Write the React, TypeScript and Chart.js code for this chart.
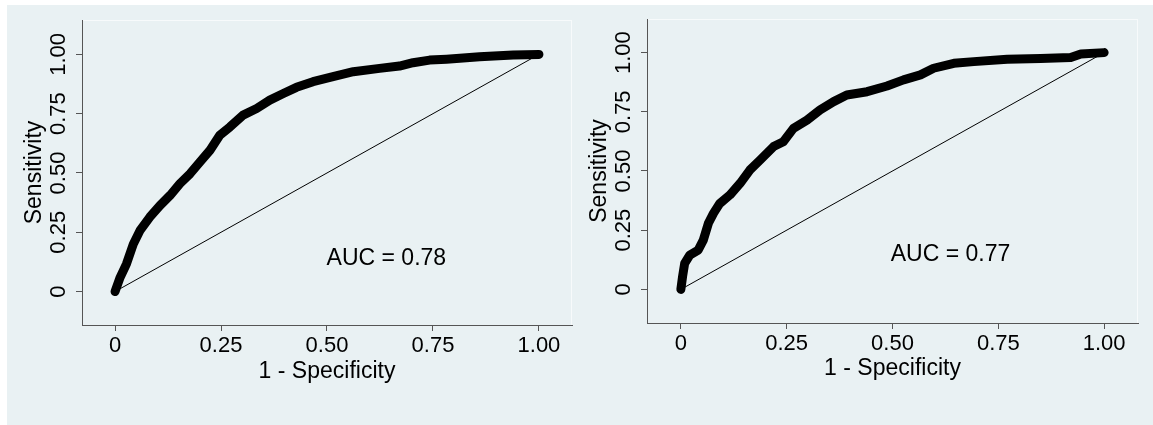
import React, { useEffect, useRef } from "react";
import { Chart, registerables } from "chart.js";

Chart.register(...registerables);

// ---- data ----
const fprLeft = [0, 0.012, 0.027, 0.043, 0.059, 0.082, 0.106, 0.13, 0.153, 0.177, 0.2, 0.224, 0.247, 0.271, 0.302, 0.334, 0.365, 0.397, 0.428, 0.467, 0.507, 0.562, 0.624, 0.671, 0.703, 0.742, 0.782, 0.86, 0.939, 1];
const tprLeft = [0, 0.06, 0.117, 0.2, 0.258, 0.314, 0.363, 0.406, 0.455, 0.497, 0.546, 0.596, 0.659, 0.694, 0.744, 0.772, 0.807, 0.835, 0.861, 0.885, 0.903, 0.927, 0.941, 0.951, 0.965, 0.976, 0.98, 0.99, 0.997, 1];

const fprRight = [0, 0.004, 0.009, 0.021, 0.041, 0.053, 0.065, 0.077, 0.092, 0.116, 0.14, 0.163, 0.187, 0.219, 0.242, 0.266, 0.298, 0.329, 0.361, 0.392, 0.44, 0.487, 0.526, 0.566, 0.597, 0.645, 0.692, 0.771, 0.85, 0.921, 0.945, 1];
const tprRight = [0, 0.054, 0.11, 0.145, 0.166, 0.208, 0.279, 0.321, 0.363, 0.399, 0.448, 0.504, 0.546, 0.603, 0.624, 0.68, 0.715, 0.758, 0.793, 0.821, 0.835, 0.859, 0.885, 0.906, 0.934, 0.955, 0.962, 0.972, 0.975, 0.979, 0.994, 1];

const diagX = [0, 1];
const diagY = [0, 1];

const tickValues = [0, 0.25, 0.5, 0.75, 1];
const tickLabels = ["0", "0.25", "0.50", "0.75", "1.00"];

const xTitle = "1 - Specificity";
const yTitle = "Sensitivity";
const aucLeft = "AUC = 0.78";
const aucRight = "AUC = 0.77";
const aucPosLeft = [0.64, 0.137];
const aucPosRight = [0.637, 0.145];

// ---- style ----
const BG = "rgb(233,241,243)";
const AXIS = "#555555";
const FONT = "'Liberation Sans', Arial, Helvetica, sans-serif";

type Geom = {
  w: number; h: number;
  yW: number; xH: number;
  padTop: number; padRight: number;
  yTitlePad: number; xTitlePad: number;
  xMin: number; xMax: number; yMin: number; yMax: number;
};

function makeConfig(fpr: number[], tpr: number[], auc: string, aucPos: number[], g: Geom): any {
  const outline = {
    id: "outline",
    beforeDraw(chart: any) {
      const { ctx, chartArea } = chart;
      ctx.save();
      ctx.strokeStyle = "rgb(247,250,251)";
      ctx.lineWidth = 1;
      ctx.strokeRect(chartArea.left + 0.5, chartArea.top + 0.5, chartArea.right - chartArea.left - 1, chartArea.bottom - chartArea.top);
      ctx.restore();
    },
  };
  const aucText = {
    id: "aucText",
    afterDatasetsDraw(chart: any) {
      const { ctx } = chart;
      const x = chart.scales.x.getPixelForValue(aucPos[0]);
      const y = chart.scales.y.getPixelForValue(aucPos[1]);
      ctx.save();
      ctx.fillStyle = "#000";
      ctx.font = `23px ${FONT}`;
      ctx.textAlign = "center";
      ctx.textBaseline = "middle";
      ctx.fillText(auc, x, y);
      ctx.restore();
    },
  };
  const setTicks = (scale: any) => {
    scale.ticks = tickValues.map((v) => ({ value: v }));
  };
  const fmt = (_v: any, i: number) => tickLabels[i];
  return {
    type: "line",
    data: {
      datasets: [
        {
          data: diagX.map((x, i) => ({ x, y: diagY[i] })),
          borderColor: "#000",
          borderWidth: 1,
          pointRadius: 0,
          fill: false,
          tension: 0,
        },
        {
          data: fpr.map((x, i) => ({ x, y: tpr[i] })),
          borderColor: "#000",
          borderWidth: 9,
          borderJoinStyle: "round",
          borderCapStyle: "round",
          pointRadius: 0,
          fill: false,
          tension: 0,
        },
      ],
    },
    options: {
      responsive: false,
      animation: false,
      devicePixelRatio: 1,
      layout: { padding: { left: 0, top: g.padTop, right: g.padRight, bottom: 0 } },
      plugins: { legend: { display: false }, tooltip: { enabled: false } },
      scales: {
        x: {
          type: "linear",
          min: g.xMin,
          max: g.xMax,
          afterBuildTicks: setTicks,
          afterFit: (s: any) => { s.height = g.xH; },
          grid: { drawOnChartArea: false, drawTicks: true, tickLength: 6, tickColor: AXIS, lineWidth: 1 },
          border: { display: true, color: AXIS, width: 1 },
          ticks: { callback: fmt, autoSkip: false, maxRotation: 0, minRotation: 0, padding: 2, color: "#000", font: { family: FONT, size: 22 } },
          title: { display: true, text: xTitle, color: "#000", font: { family: FONT, size: 23 }, padding: { top: 0, bottom: g.xTitlePad } },
        },
        y: {
          type: "linear",
          min: g.yMin,
          max: g.yMax,
          afterBuildTicks: setTicks,
          afterFit: (s: any) => { s.width = g.yW; },
          grid: { drawOnChartArea: false, drawTicks: true, tickLength: 6, tickColor: AXIS, lineWidth: 1 },
          border: { display: true, color: AXIS, width: 1 },
          ticks: { callback: fmt, autoSkip: false, minRotation: 90, maxRotation: 90, crossAlign: "center", padding: -4, color: "#000", font: { family: FONT, size: 22 } },
          title: { display: true, text: yTitle, color: "#000", font: { family: FONT, size: 23 }, padding: { top: g.yTitlePad, bottom: 0 } },
        },
      },
    },
    plugins: [outline, aucText],
  };
}

const leftGeom: Geom = {
  w: 566, h: 420, yW: 75, xH: 100, padTop: 15, padRight: 1,
  yTitlePad: 14, xTitlePad: 40,
  xMin: -0.078, xMax: 1.078, yMin: -0.141, yMax: 1.145,
};
const rightGeom: Geom = {
  w: 578, h: 420, yW: 72, xH: 102, padTop: 14, padRight: 15,
  yTitlePad: 11, xTitlePad: 43,
  xMin: -0.08, xMax: 1.08, yMin: -0.142, yMax: 1.142,
};

export default function App() {
  const leftRef = useRef<HTMLCanvasElement | null>(null);
  const rightRef = useRef<HTMLCanvasElement | null>(null);
  useEffect(() => {
    const c1 = new Chart(leftRef.current as HTMLCanvasElement, makeConfig(fprLeft, tprLeft, aucLeft, aucPosLeft, leftGeom));
    const c2 = new Chart(rightRef.current as HTMLCanvasElement, makeConfig(fprRight, tprRight, aucRight, aucPosRight, rightGeom));
    return () => { c1.destroy(); c2.destroy(); };
  }, []);
  return (
    <div style={{ position: "fixed", left: 0, top: 0, width: 1153, height: 425, background: "#fff", overflow: "hidden" }}>
      <div style={{ position: "absolute", left: 7, top: 5, width: 1146, height: 420, background: BG }} />
      <canvas ref={leftRef} width={leftGeom.w} height={leftGeom.h}
        style={{ position: "absolute", left: 7, top: 5, width: leftGeom.w, height: leftGeom.h }} />
      <canvas ref={rightRef} width={rightGeom.w} height={rightGeom.h}
        style={{ position: "absolute", left: 575, top: 5, width: rightGeom.w, height: rightGeom.h }} />
    </div>
  );
}
